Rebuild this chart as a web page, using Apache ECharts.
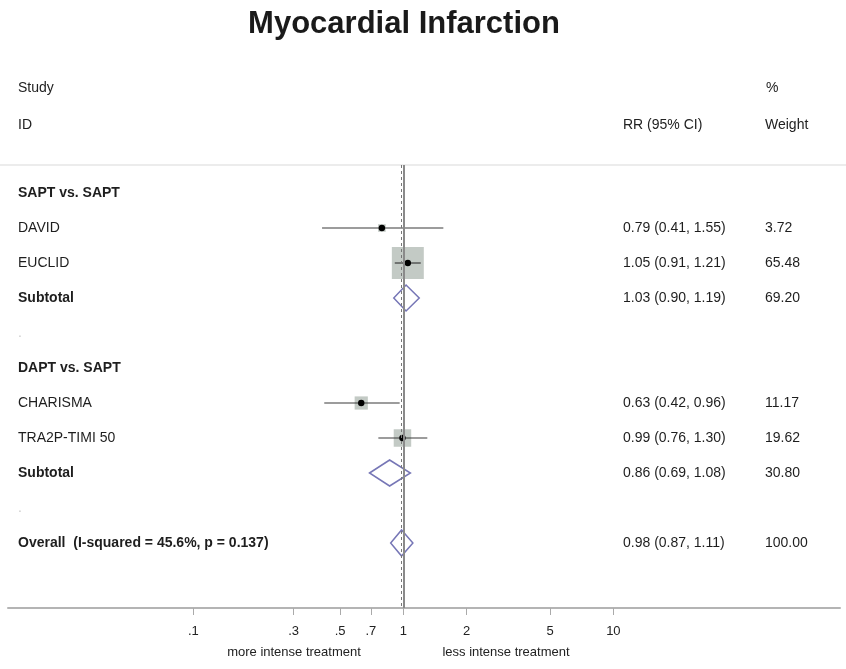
<!DOCTYPE html>
<html>
<head>
<meta charset="utf-8">
<script src="https://cdn.jsdelivr.net/npm/echarts@6/dist/echarts.min.js"></script>
<style>
html,body{margin:0;padding:0;background:#fff;}
#chart{width:846px;height:669px;}
</style>
</head>
<body>
<div id="chart"></div>
<script>
// ---------- data ----------
const rowLabels = ["SAPT vs. SAPT", "DAVID", "EUCLID", "Subtotal", ".", "DAPT vs. SAPT", "CHARISMA", "TRA2P-TIMI 50", "Subtotal", ".", "Overall  (I-squared = 45.6%, p = 0.137)"];
const rowBold = [true, false, false, true, false, true, false, false, true, false, true];

const studyNames = ["DAVID", "EUCLID", "CHARISMA", "TRA2P-TIMI 50"];
const studyRow = [1, 2, 6, 7];
const studyRR = [0.79, 1.05, 0.63, 0.99];
const studyLo = [0.41, 0.91, 0.42, 0.76];
const studyHi = [1.55, 1.21, 0.96, 1.30];
const studyWeight = [3.72, 65.48, 11.17, 19.62];

const pooledNames = ["Subtotal", "Subtotal", "Overall"];
const pooledRow = [3, 8, 10];
const pooledRR = [1.03, 0.86, 0.98];
const pooledLo = [0.90, 0.69, 0.87];
const pooledHi = [1.19, 1.08, 1.11];
const pooledWeight = [69.20, 30.80, 100.00];

const tickValues = [0.1, 0.3, 0.5, 0.7, 1, 2, 5, 10];
const tickLabels = [".1", ".3", ".5", ".7", "1", "2", "5", "10"];

const xMin = 0.0131, xMax = 120;
const yMin = -0.8, yMax = 11.857;

// ---------- build ----------
const FONT = "Liberation Sans, Arial, sans-serif";
const fmt = v => v.toFixed(2);

const studyData = studyNames.map((n, i) => [studyRR[i], studyRow[i], studyLo[i], studyHi[i], studyWeight[i]]);
const pooledData = pooledNames.map((n, i) => [pooledRR[i], pooledRow[i], pooledLo[i], pooledHi[i], pooledWeight[i]]);

const tableData = rowLabels.map((lab, r) => {
  let rrText = "", wText = "";
  const si = studyRow.indexOf(r);
  const pi = pooledRow.indexOf(r);
  if (si >= 0) { rrText = fmt(studyRR[si]) + " (" + fmt(studyLo[si]) + ", " + fmt(studyHi[si]) + ")"; wText = fmt(studyWeight[si]); }
  if (pi >= 0) { rrText = fmt(pooledRR[pi]) + " (" + fmt(pooledLo[pi]) + ", " + fmt(pooledHi[pi]) + ")"; wText = fmt(pooledWeight[pi]); }
  return [1, r, lab, rrText, wText, rowBold[r] ? 1 : 0];
});

const chart = echarts.init(document.getElementById('chart'), null, {renderer: 'canvas'});

const option = {
  backgroundColor: '#fff',
  animation: false,
  grid: {left: 8, right: 6, top: 165, bottom: 61, containLabel: false},
  xAxis: {
    type: 'log', logBase: 10, min: xMin, max: xMax,
    axisLine: {show: true, onZero: false, lineStyle: {color: '#b4b4b4', width: 2}},
    axisTick: {show: true, length: 7, lineStyle: {color: '#aaa', width: 1}, customValues: tickValues},
    axisLabel: {
      show: true, margin: 17, fontSize: 13, color: '#222', fontFamily: FONT,
      customValues: tickValues,
      formatter: v => { const i = tickValues.findIndex(t => Math.abs(t - v) < 1e-9); return i >= 0 ? tickLabels[i] : ''; }
    },
    splitLine: {show: false}
  },
  yAxis: {type: 'value', inverse: true, min: yMin, max: yMax, show: false},
  graphic: [
    {type: 'text', x: 404, y: 24, style: {text: 'Myocardial Infarction', font: 'bold 31px ' + FONT, fill: '#1a1a1a', textAlign: 'center', textVerticalAlign: 'middle'}},
    {type: 'text', x: 18, y: 88, style: {text: 'Study', font: '14px ' + FONT, fill: '#222', textVerticalAlign: 'middle'}},
    {type: 'text', x: 18, y: 125, style: {text: 'ID', font: '14px ' + FONT, fill: '#222', textVerticalAlign: 'middle'}},
    {type: 'text', x: 766, y: 88, style: {text: '%', font: '14px ' + FONT, fill: '#222', textVerticalAlign: 'middle'}},
    {type: 'text', x: 623, y: 125, style: {text: 'RR (95% CI)', font: '14px ' + FONT, fill: '#222', textVerticalAlign: 'middle'}},
    {type: 'text', x: 765, y: 125, style: {text: 'Weight', font: '14px ' + FONT, fill: '#222', textVerticalAlign: 'middle'}},
    {type: 'line', shape: {x1: 0, y1: 165, x2: 846, y2: 165}, style: {stroke: '#ececec', lineWidth: 2}},
    {type: 'text', x: 294, y: 652, style: {text: 'more intense treatment', font: '13px ' + FONT, fill: '#222', textAlign: 'center', textVerticalAlign: 'middle'}},
    {type: 'text', x: 506, y: 652, style: {text: 'less intense treatment', font: '13px ' + FONT, fill: '#222', textAlign: 'center', textVerticalAlign: 'middle'}}
  ],
  series: [
    {
      type: 'scatter', data: [], silent: true,
      markLine: {
        symbol: 'none', silent: true, label: {show: false}, animation: false,
        data: [
          {xAxis: 1, lineStyle: {color: '#8a8a8a', width: 2, type: 'solid'}},
          {xAxis: pooledRR[2], lineStyle: {color: '#777', width: 1, type: [3, 3]}}
        ]
      }
    },
    {
      type: 'custom', name: 'studies', clip: false, silent: true,
      encode: {x: 0, y: 1},
      data: studyData,
      renderItem: (params, api) => {
        const p = api.coord([api.value(0), api.value(1)]);
        const pl = api.coord([api.value(2), api.value(1)]);
        const ph = api.coord([api.value(3), api.value(1)]);
        const side = 3.95 * Math.sqrt(api.value(4));
        return {
          type: 'group',
          children: [
            {type: 'rect', shape: {x: p[0] - side / 2, y: p[1] - side / 2, width: side, height: side}, style: {fill: '#c3cac5'}},
            {type: 'line', shape: {x1: pl[0], y1: p[1], x2: ph[0], y2: p[1]}, style: {stroke: '#3a3a3a', lineWidth: 1.2}},
            {type: 'circle', shape: {cx: p[0], cy: p[1], r: 3.2}, style: {fill: '#000'}}
          ]
        };
      }
    },
    {
      type: 'custom', name: 'pooled', clip: false, silent: true,
      encode: {x: 0, y: 1},
      data: pooledData,
      renderItem: (params, api) => {
        const p = api.coord([api.value(0), api.value(1)]);
        const pl = api.coord([api.value(2), api.value(1)]);
        const ph = api.coord([api.value(3), api.value(1)]);
        const h = 13;
        return {
          type: 'polygon',
          shape: {points: [[pl[0], p[1]], [p[0], p[1] - h], [ph[0], p[1]], [p[0], p[1] + h]]},
          style: {fill: '#fff', stroke: '#7676b6', lineWidth: 1.5}
        };
      }
    },
    {
      type: 'custom', name: 'table', clip: false, silent: true,
      encode: {x: 0, y: 1},
      data: tableData,
      renderItem: (params, api) => {
        const d = tableData[params.dataIndex];
        const y = api.coord([1, d[1]])[1];
        const bold = d[5] === 1;
        const isDot = d[2] === '.';
        return {
          type: 'group',
          children: [
            {type: 'text', x: 18, y: y, style: {text: d[2], font: (bold ? 'bold ' : '') + '14px ' + FONT, fill: isDot ? '#ccc' : '#1e1e1e', textVerticalAlign: 'middle'}},
            {type: 'text', x: 623, y: y, style: {text: d[3], font: '14px ' + FONT, fill: '#1e1e1e', textVerticalAlign: 'middle'}},
            {type: 'text', x: 765, y: y, style: {text: d[4], font: '14px ' + FONT, fill: '#1e1e1e', textVerticalAlign: 'middle'}}
          ]
        };
      }
    }
  ]
};
chart.setOption(option);
</script>
</body>
</html>
